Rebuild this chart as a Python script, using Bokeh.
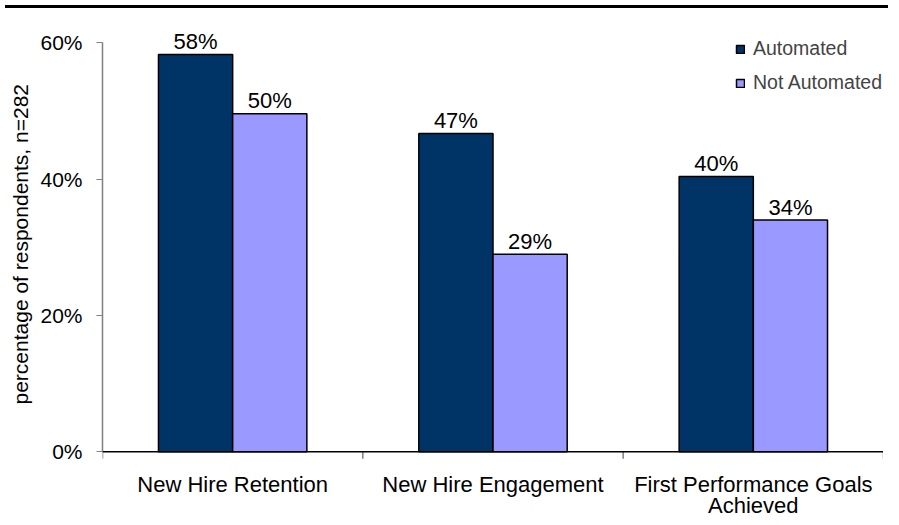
from bokeh.plotting import figure
from bokeh.models import (Range1d, FixedTicker, PrintfTickFormatter, ColumnDataSource,
                          Legend, LegendItem, Div, LinearAxis, Title, Span)
from bokeh.layouts import column
from bokeh.embed import file_html
from bokeh.resources import INLINE
from bokeh.core.properties import value

categories = ["New Hire Retention", "New Hire Engagement", "First Performance Goals\nAchieved"]
automated = [58.3, 46.7, 40.4]
not_automated = [49.6, 29.0, 34.0]
automated_labels = ["58%", "47%", "40%"]
not_automated_labels = ["50%", "29%", "34%"]
y_ticks = [0, 20, 40, 60]
series_names = ["Automated", "Not Automated"]
colors = ["#003366", "#9999FF"]
y_title = "percentage of respondents, n=282"

FONT = "Liberation Sans"
BAR_W = 0.285
PX_PER_UNIT = 6.814  # vertical scale, px per percentage point

idx = list(range(len(categories)))
src_a = ColumnDataSource(dict(x=[i + 0.5 - BAR_W / 2 for i in idx], top=automated, lab=automated_labels))
src_n = ColumnDataSource(dict(x=[i + 0.5 + BAR_W / 2 for i in idx], top=not_automated, lab=not_automated_labels))
src_c = ColumnDataSource(dict(x=[i + 0.5 for i in idx], y=[0] * len(idx), lab=categories))
bounds_x = [float(i) for i in range(len(categories) + 1)]
src_t = ColumnDataSource(dict(x=bounds_x, y0=[0.0] * len(bounds_x),
                              y1=[-7 / PX_PER_UNIT] * len(bounds_x)))

p = figure(width=883, height=506, x_range=Range1d(0, 3), y_range=Range1d(-9.94, 64.03),
           x_axis_type=None, y_axis_type=None,
           output_backend="svg", toolbar_location=None,
           min_border_left=92, min_border_right=0, min_border_top=2, min_border_bottom=0)
p.outline_line_color = None
p.xgrid.visible = False
p.ygrid.visible = False
p.background_fill_color = "white"
p.border_fill_color = "white"

ra = p.vbar(x="x", top="top", width=BAR_W, bottom=0, source=src_a,
            fill_color=colors[0], line_color="black", line_width=1.5)
rn = p.vbar(x="x", top="top", width=BAR_W, bottom=0, source=src_n,
            fill_color=colors[1], line_color="black", line_width=1.5)

for s in (src_a, src_n):
    p.text(x="x", y="top", text="lab", source=s, text_align="center", text_baseline="alphabetic",
           y_offset=-13, text_font=value(FONT), text_font_size="22px", text_color="black")

# x axis line and boundary ticks
p.add_layout(Span(location=0, dimension="width", line_color="black", line_width=1.5))
p.segment(x0="x", y0="y0", x1="x", y1="y1", source=src_t, line_color="#808080", line_width=1.5)
p.text(x="x", y="y", text="lab", source=src_c, text_align="center", text_baseline="top",
       y_offset=20, text_line_height=0.85, text_font=value(FONT), text_font_size="22px",
       text_color="black")

# y axis
yax = LinearAxis(ticker=FixedTicker(ticks=y_ticks), formatter=PrintfTickFormatter(format="%d%%"),
                 bounds=(0, 60))
yax.axis_line_color = "#808080"
yax.axis_line_width = 1.5
yax.major_tick_line_color = "#808080"
yax.major_tick_in = 0
yax.major_tick_out = 6
yax.minor_tick_line_color = None
yax.major_label_text_font = FONT
yax.major_label_text_font_size = "21px"
yax.major_label_text_color = "black"
yax.major_label_standoff = 14
p.add_layout(yax, "left")

ytitle = Title(text=y_title, align="left", offset=115, text_font=FONT, text_font_size="21px",
               text_font_style="normal", text_color="black", standoff=12)
p.add_layout(ytitle, "left")

legend = Legend(items=[LegendItem(label=series_names[0], renderers=[ra]),
                       LegendItem(label=series_names[1], renderers=[rn])],
                location=(633, 425), glyph_width=10, glyph_height=10, label_height=16,
                spacing=11, padding=0, margin=0, border_line_color=None,
                background_fill_alpha=0, label_text_font=FONT, label_text_font_size="19.5px",
                label_standoff=8)
p.add_layout(legend)

top_line = Div(text="", width=883, height=3, styles={"background-color": "black"})

layout = column(top_line, p)
open("out.html", "w").write(file_html(layout, INLINE))
